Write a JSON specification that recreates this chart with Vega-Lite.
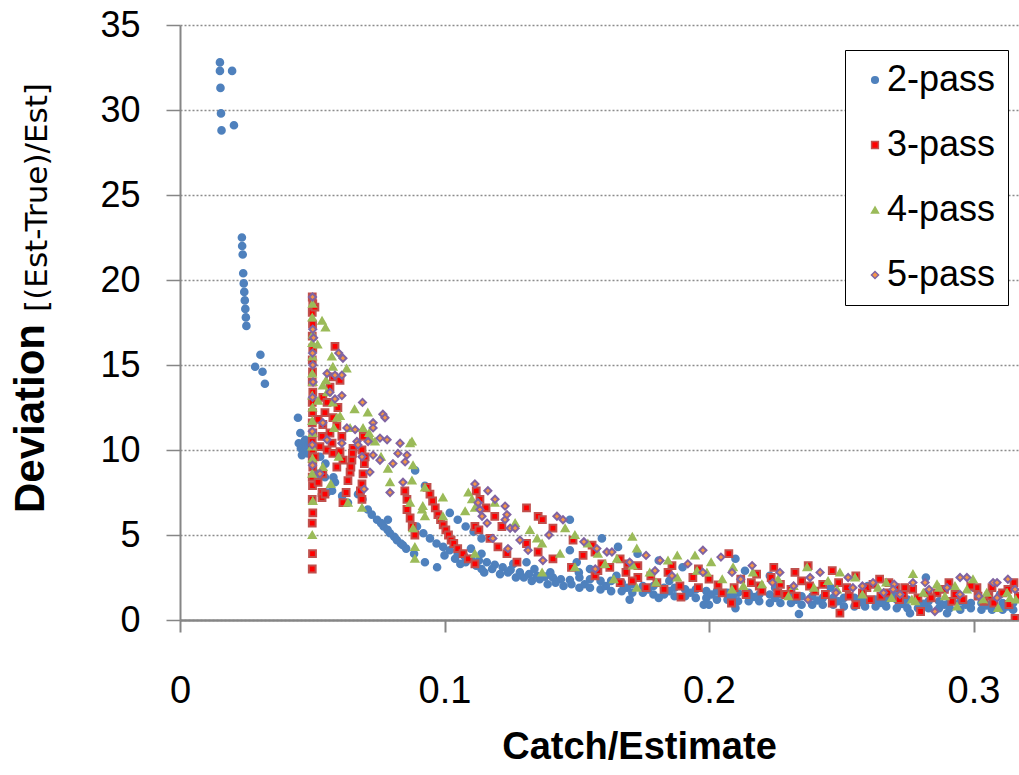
{
"$schema":"https://vega.github.io/schema/vega-lite/v6.json",
"width":839,"height":595,"autosize":"none",
"padding":{"left":180,"top":25,"right":0,"bottom":155},
"background":"white",
"config":{"view":{"stroke":null},"font":"Liberation Sans"},
"data":{"values":[
{"s":"2-pass","x":0.0151,"y":32.8},{"s":"2-pass","x":0.0151,"y":32.3},{"s":"2-pass","x":0.0153,"y":31.3},{"s":"2-pass","x":0.0155,"y":29.8},{"s":"2-pass","x":0.0157,"y":28.8},{"s":"2-pass","x":0.0197,"y":32.3},{"s":"2-pass","x":0.0204,"y":29.1},
{"s":"2-pass","x":0.0234,"y":22.5},{"s":"2-pass","x":0.0235,"y":22.0},{"s":"2-pass","x":0.0237,"y":21.5},{"s":"2-pass","x":0.0239,"y":20.4},{"s":"2-pass","x":0.0241,"y":19.8},{"s":"2-pass","x":0.0243,"y":19.3},{"s":"2-pass","x":0.0245,"y":18.8},{"s":"2-pass","x":0.0247,"y":18.3},{"s":"2-pass","x":0.0249,"y":17.8},{"s":"2-pass","x":0.0251,"y":17.3},
{"s":"2-pass","x":0.0284,"y":14.9},{"s":"2-pass","x":0.0304,"y":15.6},{"s":"2-pass","x":0.0312,"y":14.6},{"s":"2-pass","x":0.0321,"y":13.9},
{"s":"2-pass","x":0.0446,"y":11.9},{"s":"2-pass","x":0.0455,"y":11.0},{"s":"2-pass","x":0.0449,"y":10.4},{"s":"2-pass","x":0.0457,"y":10.1},{"s":"2-pass","x":0.0461,"y":9.7},{"s":"2-pass","x":0.0465,"y":10.4},{"s":"2-pass","x":0.0469,"y":9.9},{"s":"2-pass","x":0.0473,"y":10.6},{"s":"2-pass","x":0.0478,"y":10.2},{"s":"2-pass","x":0.0483,"y":9.8},{"s":"2-pass","x":0.0488,"y":10.3},{"s":"2-pass","x":0.0493,"y":10.5},
{"s":"2-pass","x":0.052,"y":8.6},{"s":"2-pass","x":0.053,"y":9.6},{"s":"2-pass","x":0.055,"y":9.2},{"s":"2-pass","x":0.0556,"y":7.5},{"s":"2-pass","x":0.058,"y":8.4},{"s":"2-pass","x":0.0586,"y":8.1},{"s":"2-pass","x":0.0613,"y":7.3},{"s":"2-pass","x":0.0635,"y":6.9},{"s":"2-pass","x":0.0548,"y":8.4},{"s":"2-pass","x":0.0575,"y":7.6},
{"s":"2-pass","x":0.0673,"y":7.4},{"s":"2-pass","x":0.069,"y":7.1},{"s":"2-pass","x":0.071,"y":6.5},{"s":"2-pass","x":0.0725,"y":6.2},{"s":"2-pass","x":0.0745,"y":5.9},{"s":"2-pass","x":0.076,"y":5.7},{"s":"2-pass","x":0.077,"y":5.5},{"s":"2-pass","x":0.0785,"y":5.3},{"s":"2-pass","x":0.0794,"y":5.1},{"s":"2-pass","x":0.081,"y":4.9},{"s":"2-pass","x":0.082,"y":4.7},{"s":"2-pass","x":0.0835,"y":4.5},{"s":"2-pass","x":0.0843,"y":4.4},{"s":"2-pass","x":0.0786,"y":5.9},{"s":"2-pass","x":0.0855,"y":4.2},
{"s":"2-pass","x":0.0889,"y":8.8},{"s":"2-pass","x":0.0926,"y":7.9},{"s":"2-pass","x":0.0926,"y":3.4},{"s":"2-pass","x":0.0972,"y":3.1},{"s":"2-pass","x":0.0885,"y":3.9},{"s":"2-pass","x":0.102,"y":6.3},{"s":"2-pass","x":0.105,"y":5.9},{"s":"2-pass","x":0.108,"y":5.5},{"s":"2-pass","x":0.111,"y":5.2},{"s":"2-pass","x":0.114,"y":4.8},{"s":"2-pass","x":0.1474,"y":5.9},{"s":"2-pass","x":0.110,"y":4.2},{"s":"2-pass","x":0.114,"y":3.9},{"s":"2-pass","x":0.131,"y":3.4},{"s":"2-pass","x":0.1474,"y":4.1},{"s":"2-pass","x":0.150,"y":3.4},{"s":"2-pass","x":0.115,"y":2.8},
{"s":"2-pass","x":0.0896,"y":5.5},{"s":"2-pass","x":0.092,"y":5.1},{"s":"2-pass","x":0.0945,"y":4.8},{"s":"2-pass","x":0.097,"y":4.5},{"s":"2-pass","x":0.0995,"y":4.3},{"s":"2-pass","x":0.102,"y":4.1},{"s":"2-pass","x":0.105,"y":3.9},{"s":"2-pass","x":0.1075,"y":3.75},{"s":"2-pass","x":0.110,"y":3.6},{"s":"2-pass","x":0.113,"y":3.5},{"s":"2-pass","x":0.116,"y":3.4},{"s":"2-pass","x":0.119,"y":3.25},{"s":"2-pass","x":0.122,"y":3.1},{"s":"2-pass","x":0.125,"y":2.95},{"s":"2-pass","x":0.1285,"y":2.8},{"s":"2-pass","x":0.132,"y":2.7},{"s":"2-pass","x":0.135,"y":2.6},{"s":"2-pass","x":0.138,"y":2.55},{"s":"2-pass","x":0.141,"y":2.5},{"s":"2-pass","x":0.144,"y":2.4},{"s":"2-pass","x":0.1474,"y":2.35},
{"s":"2-pass","x":0.1,"y":3.8},{"s":"2-pass","x":0.104,"y":3.6},{"s":"2-pass","x":0.108,"y":3.4},{"s":"2-pass","x":0.112,"y":3.2},{"s":"2-pass","x":0.118,"y":3.0},{"s":"2-pass","x":0.124,"y":2.8},{"s":"2-pass","x":0.130,"y":2.5},{"s":"2-pass","x":0.136,"y":2.4},{"s":"2-pass","x":0.142,"y":2.2},{"s":"2-pass","x":0.148,"y":2.1},
{"s":"2-pass","x":0.106,"y":3.3},{"s":"2-pass","x":0.114,"y":3.0},{"s":"2-pass","x":0.121,"y":2.7},{"s":"2-pass","x":0.127,"y":2.5},{"s":"2-pass","x":0.133,"y":2.3},{"s":"2-pass","x":0.139,"y":2.1},{"s":"2-pass","x":0.145,"y":2.0},{"s":"2-pass","x":0.126,"y":3.3},{"s":"2-pass","x":0.134,"y":3.0},{"s":"2-pass","x":0.14,"y":2.8},
{"s":"2-pass","x":0.151,"y":2.5},{"s":"2-pass","x":0.151,"y":1.9},{"s":"2-pass","x":0.155,"y":2.4},{"s":"2-pass","x":0.155,"y":1.9},{"s":"2-pass","x":0.159,"y":2.3},{"s":"2-pass","x":0.159,"y":1.8},{"s":"2-pass","x":0.163,"y":2.3},{"s":"2-pass","x":0.163,"y":1.7},{"s":"2-pass","x":0.167,"y":2.2},{"s":"2-pass","x":0.167,"y":1.7},{"s":"2-pass","x":0.171,"y":2.1},{"s":"2-pass","x":0.171,"y":1.6},{"s":"2-pass","x":0.175,"y":2.0},{"s":"2-pass","x":0.175,"y":1.6},{"s":"2-pass","x":0.179,"y":2.0},{"s":"2-pass","x":0.179,"y":1.5},{"s":"2-pass","x":0.183,"y":1.9},{"s":"2-pass","x":0.183,"y":1.5},{"s":"2-pass","x":0.187,"y":1.9},{"s":"2-pass","x":0.187,"y":1.4},{"s":"2-pass","x":0.191,"y":1.8},{"s":"2-pass","x":0.191,"y":1.4},{"s":"2-pass","x":0.195,"y":1.8},{"s":"2-pass","x":0.195,"y":1.3},{"s":"2-pass","x":0.199,"y":1.7},{"s":"2-pass","x":0.199,"y":1.3},
{"s":"2-pass","x":0.203,"y":1.7},{"s":"2-pass","x":0.203,"y":1.2},{"s":"2-pass","x":0.207,"y":1.6},{"s":"2-pass","x":0.207,"y":1.2},{"s":"2-pass","x":0.211,"y":1.6},{"s":"2-pass","x":0.211,"y":1.1},{"s":"2-pass","x":0.215,"y":1.6},{"s":"2-pass","x":0.215,"y":1.1},{"s":"2-pass","x":0.219,"y":1.5},{"s":"2-pass","x":0.219,"y":1.1},{"s":"2-pass","x":0.223,"y":1.5},{"s":"2-pass","x":0.223,"y":1.0},{"s":"2-pass","x":0.227,"y":1.5},{"s":"2-pass","x":0.227,"y":1.0},{"s":"2-pass","x":0.231,"y":1.4},{"s":"2-pass","x":0.231,"y":1.0},{"s":"2-pass","x":0.235,"y":1.4},{"s":"2-pass","x":0.235,"y":0.9},{"s":"2-pass","x":0.239,"y":1.4},{"s":"2-pass","x":0.239,"y":0.9},{"s":"2-pass","x":0.243,"y":1.3},{"s":"2-pass","x":0.243,"y":0.9},{"s":"2-pass","x":0.247,"y":1.3},{"s":"2-pass","x":0.247,"y":0.9},{"s":"2-pass","x":0.251,"y":1.3},{"s":"2-pass","x":0.251,"y":0.8},
{"s":"2-pass","x":0.255,"y":1.3},{"s":"2-pass","x":0.255,"y":0.8},{"s":"2-pass","x":0.259,"y":1.2},{"s":"2-pass","x":0.259,"y":0.8},{"s":"2-pass","x":0.263,"y":1.2},{"s":"2-pass","x":0.263,"y":0.8},{"s":"2-pass","x":0.267,"y":1.2},{"s":"2-pass","x":0.267,"y":0.8},{"s":"2-pass","x":0.271,"y":1.2},{"s":"2-pass","x":0.271,"y":0.7},{"s":"2-pass","x":0.275,"y":1.2},{"s":"2-pass","x":0.275,"y":0.7},{"s":"2-pass","x":0.279,"y":1.1},{"s":"2-pass","x":0.279,"y":0.7},{"s":"2-pass","x":0.283,"y":1.1},{"s":"2-pass","x":0.283,"y":0.7},{"s":"2-pass","x":0.287,"y":1.1},{"s":"2-pass","x":0.287,"y":0.7},{"s":"2-pass","x":0.291,"y":1.1},{"s":"2-pass","x":0.291,"y":0.7},{"s":"2-pass","x":0.295,"y":1.1},{"s":"2-pass","x":0.295,"y":0.6},{"s":"2-pass","x":0.299,"y":1.0},{"s":"2-pass","x":0.299,"y":0.7},{"s":"2-pass","x":0.303,"y":1.0},{"s":"2-pass","x":0.303,"y":0.6},{"s":"2-pass","x":0.307,"y":1.0},{"s":"2-pass","x":0.307,"y":0.6},{"s":"2-pass","x":0.311,"y":1.0},{"s":"2-pass","x":0.311,"y":0.6},{"s":"2-pass","x":0.315,"y":1.0},{"s":"2-pass","x":0.315,"y":0.6},
{"s":"2-pass","x":0.153,"y":2.1},{"s":"2-pass","x":0.161,"y":2.0},{"s":"2-pass","x":0.169,"y":1.9},{"s":"2-pass","x":0.177,"y":1.8},{"s":"2-pass","x":0.185,"y":1.7},{"s":"2-pass","x":0.193,"y":1.6},{"s":"2-pass","x":0.201,"y":1.5},{"s":"2-pass","x":0.209,"y":1.4},{"s":"2-pass","x":0.217,"y":1.35},{"s":"2-pass","x":0.225,"y":1.3},{"s":"2-pass","x":0.233,"y":1.2},{"s":"2-pass","x":0.241,"y":1.15},{"s":"2-pass","x":0.249,"y":1.1},{"s":"2-pass","x":0.257,"y":1.05},{"s":"2-pass","x":0.265,"y":1.0},{"s":"2-pass","x":0.273,"y":0.95},{"s":"2-pass","x":0.281,"y":0.95},{"s":"2-pass","x":0.289,"y":0.9},{"s":"2-pass","x":0.297,"y":0.9},{"s":"2-pass","x":0.305,"y":0.85},{"s":"2-pass","x":0.313,"y":0.8},
{"s":"2-pass","x":0.1595,"y":4.8},{"s":"2-pass","x":0.1656,"y":4.3},{"s":"2-pass","x":0.1508,"y":2.8},{"s":"2-pass","x":0.173,"y":3.9},{"s":"2-pass","x":0.181,"y":1.3},{"s":"2-pass","x":0.198,"y":0.9},{"s":"2-pass","x":0.19,"y":3.1},{"s":"2-pass","x":0.181,"y":3.5},{"s":"2-pass","x":0.21,"y":3.6},{"s":"2-pass","x":0.2136,"y":2.9},{"s":"2-pass","x":0.223,"y":2.6},{"s":"2-pass","x":0.2,"y":0.9},{"s":"2-pass","x":0.21,"y":0.7},{"s":"2-pass","x":0.234,"y":0.35},{"s":"2-pass","x":0.282,"y":2.5},{"s":"2-pass","x":0.276,"y":0.4},{"s":"2-pass","x":0.246,"y":1.9},{"s":"2-pass","x":0.17,"y":1.2},{"s":"2-pass","x":0.26,"y":2.0},{"s":"2-pass","x":0.30,"y":1.9},{"s":"2-pass","x":0.29,"y":0.4},{"s":"2-pass","x":0.165,"y":2.6},{"s":"2-pass","x":0.155,"y":3.0},{"s":"2-pass","x":0.185,"y":2.3},{"s":"2-pass","x":0.225,"y":1.9},{"s":"2-pass","x":0.27,"y":1.6},{"s":"2-pass","x":0.31,"y":1.5},

{"s":"3-pass","x":0.0500,"y":3.0},{"s":"3-pass","x":0.0501,"y":3.9},{"s":"3-pass","x":0.0500,"y":5.7},{"s":"3-pass","x":0.0502,"y":6.3},{"s":"3-pass","x":0.0500,"y":7.1},{"s":"3-pass","x":0.0501,"y":7.9},{"s":"3-pass","x":0.0500,"y":8.4},{"s":"3-pass","x":0.0502,"y":9.0},{"s":"3-pass","x":0.0500,"y":9.5},{"s":"3-pass","x":0.0501,"y":10.0},{"s":"3-pass","x":0.0500,"y":10.5},{"s":"3-pass","x":0.0502,"y":11.0},{"s":"3-pass","x":0.0500,"y":11.6},{"s":"3-pass","x":0.0501,"y":12.2},{"s":"3-pass","x":0.0500,"y":12.8},{"s":"3-pass","x":0.0502,"y":13.4},{"s":"3-pass","x":0.0500,"y":14.0},{"s":"3-pass","x":0.0501,"y":14.6},{"s":"3-pass","x":0.0500,"y":15.3},{"s":"3-pass","x":0.0502,"y":16.0},{"s":"3-pass","x":0.0500,"y":16.7},{"s":"3-pass","x":0.0501,"y":17.4},{"s":"3-pass","x":0.0500,"y":18.1},{"s":"3-pass","x":0.0502,"y":18.6},{"s":"3-pass","x":0.0500,"y":19.0},
{"s":"3-pass","x":0.051,"y":18.4},{"s":"3-pass","x":0.0586,"y":16.1},{"s":"3-pass","x":0.058,"y":14.3},{"s":"3-pass","x":0.0567,"y":13.7},{"s":"3-pass","x":0.0597,"y":12.5},{"s":"3-pass","x":0.054,"y":13.1},{"s":"3-pass","x":0.0556,"y":12.8},{"s":"3-pass","x":0.0605,"y":14.1},{"s":"3-pass","x":0.0578,"y":11.9},{"s":"3-pass","x":0.054,"y":11.5},{"s":"3-pass","x":0.0537,"y":10.8},{"s":"3-pass","x":0.0567,"y":11.0},{"s":"3-pass","x":0.0593,"y":11.4},{"s":"3-pass","x":0.0529,"y":10.2},{"s":"3-pass","x":0.0556,"y":10.0},{"s":"3-pass","x":0.0578,"y":9.8},{"s":"3-pass","x":0.0605,"y":9.9},{"s":"3-pass","x":0.0510,"y":9.6},{"s":"3-pass","x":0.054,"y":8.6},{"s":"3-pass","x":0.0522,"y":8.1},{"s":"3-pass","x":0.0537,"y":7.5},{"s":"3-pass","x":0.0537,"y":7.2},{"s":"3-pass","x":0.0593,"y":9.0},{"s":"3-pass","x":0.0616,"y":9.4},{"s":"3-pass","x":0.0612,"y":10.8},{"s":"3-pass","x":0.0575,"y":10.4},{"s":"3-pass","x":0.0548,"y":12.2},{"s":"3-pass","x":0.0522,"y":11.8},{"s":"3-pass","x":0.0548,"y":7.4},
{"s":"3-pass","x":0.0654,"y":10.1},{"s":"3-pass","x":0.0650,"y":9.4},{"s":"3-pass","x":0.0643,"y":8.7},{"s":"3-pass","x":0.0635,"y":8.2},{"s":"3-pass","x":0.0628,"y":7.5},{"s":"3-pass","x":0.0616,"y":6.9},{"s":"3-pass","x":0.0646,"y":9.0},{"s":"3-pass","x":0.0652,"y":9.8},
{"s":"3-pass","x":0.0688,"y":10.0},{"s":"3-pass","x":0.0697,"y":9.2},{"s":"3-pass","x":0.0692,"y":8.6},{"s":"3-pass","x":0.0688,"y":8.0},{"s":"3-pass","x":0.0688,"y":7.1},{"s":"3-pass","x":0.0682,"y":7.6},{"s":"3-pass","x":0.0693,"y":10.8},{"s":"3-pass","x":0.0700,"y":9.6},
{"s":"3-pass","x":0.085,"y":7.6},{"s":"3-pass","x":0.0858,"y":7.1},{"s":"3-pass","x":0.0858,"y":6.5},{"s":"3-pass","x":0.0870,"y":6.0},{"s":"3-pass","x":0.0888,"y":5.0},{"s":"3-pass","x":0.0878,"y":5.5},
{"s":"3-pass","x":0.0934,"y":7.8},{"s":"3-pass","x":0.0945,"y":7.4},{"s":"3-pass","x":0.0955,"y":7.0},{"s":"3-pass","x":0.0965,"y":6.6},{"s":"3-pass","x":0.0975,"y":6.2},{"s":"3-pass","x":0.0985,"y":5.9},{"s":"3-pass","x":0.0995,"y":5.6},{"s":"3-pass","x":0.1005,"y":5.3},{"s":"3-pass","x":0.1015,"y":5.0},{"s":"3-pass","x":0.1025,"y":4.7},{"s":"3-pass","x":0.1035,"y":4.5},{"s":"3-pass","x":0.105,"y":4.2},{"s":"3-pass","x":0.107,"y":3.9},{"s":"3-pass","x":0.109,"y":3.6},{"s":"3-pass","x":0.1115,"y":3.3},
{"s":"3-pass","x":0.112,"y":7.6},{"s":"3-pass","x":0.1134,"y":7.1},{"s":"3-pass","x":0.1157,"y":6.6},{"s":"3-pass","x":0.119,"y":6.1},{"s":"3-pass","x":0.1217,"y":5.5},{"s":"3-pass","x":0.1115,"y":5.5},{"s":"3-pass","x":0.113,"y":5.3},{"s":"3-pass","x":0.1172,"y":4.8},{"s":"3-pass","x":0.1202,"y":4.3},{"s":"3-pass","x":0.1236,"y":3.9},{"s":"3-pass","x":0.1274,"y":3.4},{"s":"3-pass","x":0.131,"y":6.6},{"s":"3-pass","x":0.1354,"y":6.1},{"s":"3-pass","x":0.137,"y":5.9},{"s":"3-pass","x":0.141,"y":5.4},{"s":"3-pass","x":0.131,"y":4.5},{"s":"3-pass","x":0.1354,"y":4.0},{"s":"3-pass","x":0.141,"y":3.6},{"s":"3-pass","x":0.148,"y":3.1},{"s":"3-pass","x":0.1486,"y":4.7},
{"s":"3-pass","x":0.1524,"y":3.8},{"s":"3-pass","x":0.1558,"y":4.4},{"s":"3-pass","x":0.1569,"y":4.0},{"s":"3-pass","x":0.1595,"y":3.3},{"s":"3-pass","x":0.1625,"y":3.1},{"s":"3-pass","x":0.1686,"y":2.8},{"s":"3-pass","x":0.1664,"y":3.6},{"s":"3-pass","x":0.1693,"y":3.3},{"s":"3-pass","x":0.1731,"y":3.2},{"s":"3-pass","x":0.1762,"y":1.9},{"s":"3-pass","x":0.1731,"y":2.5},{"s":"3-pass","x":0.1803,"y":2.2},{"s":"3-pass","x":0.1845,"y":2.8},{"s":"3-pass","x":0.1860,"y":3.2},{"s":"3-pass","x":0.1890,"y":2.0},{"s":"3-pass","x":0.1894,"y":1.35},{"s":"3-pass","x":0.1939,"y":2.5},{"s":"3-pass","x":0.1569,"y":2.6},{"s":"3-pass","x":0.1664,"y":2.2},{"s":"3-pass","x":0.2034,"y":2.06},
{"s":"3-pass","x":0.2075,"y":3.9},{"s":"3-pass","x":0.2085,"y":1.0},{"s":"3-pass","x":0.2095,"y":1.9},{"s":"3-pass","x":0.212,"y":2.4},{"s":"3-pass","x":0.216,"y":2.2},{"s":"3-pass","x":0.219,"y":2.0},{"s":"3-pass","x":0.2245,"y":3.1},{"s":"3-pass","x":0.2235,"y":2.5},{"s":"3-pass","x":0.227,"y":2.1},{"s":"3-pass","x":0.231,"y":1.8},{"s":"3-pass","x":0.2325,"y":2.8},{"s":"3-pass","x":0.2375,"y":3.2},{"s":"3-pass","x":0.235,"y":2.3},{"s":"3-pass","x":0.240,"y":1.7},{"s":"3-pass","x":0.243,"y":2.1},{"s":"3-pass","x":0.2466,"y":2.9},{"s":"3-pass","x":0.2466,"y":1.0},{"s":"3-pass","x":0.2495,"y":0.4},{"s":"3-pass","x":0.252,"y":1.9},{"s":"3-pass","x":0.2555,"y":2.6},{"s":"3-pass","x":0.2555,"y":0.9},{"s":"3-pass","x":0.2597,"y":1.9},{"s":"3-pass","x":0.262,"y":2.1},{"s":"3-pass","x":0.2645,"y":2.4},{"s":"3-pass","x":0.2675,"y":1.6},{"s":"3-pass","x":0.2705,"y":1.9},{"s":"3-pass","x":0.2735,"y":1.5},{"s":"3-pass","x":0.2790,"y":1.3},{"s":"3-pass","x":0.2800,"y":0.5},{"s":"3-pass","x":0.2828,"y":1.6},{"s":"3-pass","x":0.2862,"y":1.6},{"s":"3-pass","x":0.2907,"y":2.2},{"s":"3-pass","x":0.2918,"y":1.1},{"s":"3-pass","x":0.2960,"y":1.2},{"s":"3-pass","x":0.3013,"y":1.9},{"s":"3-pass","x":0.3017,"y":1.4},{"s":"3-pass","x":0.3058,"y":1.4},{"s":"3-pass","x":0.3070,"y":1.9},{"s":"3-pass","x":0.3077,"y":1.0},{"s":"3-pass","x":0.3130,"y":1.8},{"s":"3-pass","x":0.3134,"y":0.9},{"s":"3-pass","x":0.3153,"y":2.2},{"s":"3-pass","x":0.3157,"y":0.1},{"s":"3-pass","x":0.2580,"y":1.6},{"s":"3-pass","x":0.2650,"y":1.4},{"s":"3-pass","x":0.2740,"y":1.9},{"s":"3-pass","x":0.2290,"y":1.5},{"s":"3-pass","x":0.2380,"y":2.0},{"s":"3-pass","x":0.2200,"y":1.7},
{"s":"3-pass","x":0.158,"y":2.9},{"s":"3-pass","x":0.171,"y":2.3},{"s":"3-pass","x":0.178,"y":2.6},{"s":"3-pass","x":0.196,"y":1.9},{"s":"3-pass","x":0.2,"y":2.4},{"s":"3-pass","x":0.205,"y":1.6},{"s":"3-pass","x":0.214,"y":1.5},{"s":"3-pass","x":0.218,"y":2.7},{"s":"3-pass","x":0.226,"y":1.6},{"s":"3-pass","x":0.233,"y":1.4},{"s":"3-pass","x":0.244,"y":1.5},{"s":"3-pass","x":0.249,"y":2.2},{"s":"3-pass","x":0.253,"y":1.4},{"s":"3-pass","x":0.261,"y":1.2},{"s":"3-pass","x":0.268,"y":2.2},{"s":"3-pass","x":0.272,"y":1.2},{"s":"3-pass","x":0.277,"y":1.8},{"s":"3-pass","x":0.284,"y":1.3},{"s":"3-pass","x":0.289,"y":1.8},{"s":"3-pass","x":0.293,"y":1.5},{"s":"3-pass","x":0.299,"y":2.0},{"s":"3-pass","x":0.304,"y":1.1},{"s":"3-pass","x":0.311,"y":1.6},{"s":"3-pass","x":0.317,"y":1.4},{"s":"3-pass","x":0.196,"y":3.0},{"s":"3-pass","x":0.183,"y":1.8},

{"s":"4-pass","x":0.0500,"y":5.0},{"s":"4-pass","x":0.0502,"y":7.0},{"s":"4-pass","x":0.0500,"y":8.6},{"s":"4-pass","x":0.0501,"y":9.5},{"s":"4-pass","x":0.0499,"y":10.2},{"s":"4-pass","x":0.0502,"y":11.0},{"s":"4-pass","x":0.0500,"y":11.7},{"s":"4-pass","x":0.0501,"y":12.5},{"s":"4-pass","x":0.0500,"y":13.2},{"s":"4-pass","x":0.0502,"y":14.0},{"s":"4-pass","x":0.0500,"y":14.5},{"s":"4-pass","x":0.0501,"y":15.5},{"s":"4-pass","x":0.0500,"y":16.3},{"s":"4-pass","x":0.0502,"y":16.8},{"s":"4-pass","x":0.0500,"y":17.8},{"s":"4-pass","x":0.0501,"y":18.6},
{"s":"4-pass","x":0.0537,"y":17.6},{"s":"4-pass","x":0.055,"y":17.2},{"s":"4-pass","x":0.052,"y":16.2},{"s":"4-pass","x":0.0574,"y":15.5},{"s":"4-pass","x":0.063,"y":14.8},{"s":"4-pass","x":0.0552,"y":14.1},{"s":"4-pass","x":0.0578,"y":14.9},{"s":"4-pass","x":0.066,"y":12.4},{"s":"4-pass","x":0.071,"y":12.2},{"s":"4-pass","x":0.0605,"y":12.0},{"s":"4-pass","x":0.0540,"y":13.8},{"s":"4-pass","x":0.0556,"y":13.4},{"s":"4-pass","x":0.0522,"y":12.9},{"s":"4-pass","x":0.0578,"y":12.8},{"s":"4-pass","x":0.0593,"y":11.9},{"s":"4-pass","x":0.0582,"y":11.3},{"s":"4-pass","x":0.0643,"y":11.3},{"s":"4-pass","x":0.0692,"y":11.3},{"s":"4-pass","x":0.0737,"y":10.5},{"s":"4-pass","x":0.0877,"y":10.5},
{"s":"4-pass","x":0.072,"y":10.7},{"s":"4-pass","x":0.0715,"y":11.0},{"s":"4-pass","x":0.0786,"y":8.9},{"s":"4-pass","x":0.0794,"y":8.1},{"s":"4-pass","x":0.0870,"y":10.4},{"s":"4-pass","x":0.0881,"y":9.1},{"s":"4-pass","x":0.0877,"y":8.2},{"s":"4-pass","x":0.0870,"y":6.9},{"s":"4-pass","x":0.0926,"y":7.8},{"s":"4-pass","x":0.0915,"y":6.5},{"s":"4-pass","x":0.0881,"y":5.4},{"s":"4-pass","x":0.0888,"y":4.3},{"s":"4-pass","x":0.0888,"y":3.6},{"s":"4-pass","x":0.0688,"y":6.6},{"s":"4-pass","x":0.0635,"y":6.9},{"s":"4-pass","x":0.0540,"y":9.0},{"s":"4-pass","x":0.0570,"y":8.0},{"s":"4-pass","x":0.0600,"y":9.6},{"s":"4-pass","x":0.0760,"y":9.6},
{"s":"4-pass","x":0.109,"y":7.5},{"s":"4-pass","x":0.1104,"y":7.1},{"s":"4-pass","x":0.1115,"y":6.6},{"s":"4-pass","x":0.0918,"y":6.7},{"s":"4-pass","x":0.0994,"y":7.2},{"s":"4-pass","x":0.0994,"y":6.1},{"s":"4-pass","x":0.0926,"y":6.1},{"s":"4-pass","x":0.119,"y":6.9},{"s":"4-pass","x":0.1267,"y":5.7},{"s":"4-pass","x":0.1323,"y":5.3},{"s":"4-pass","x":0.135,"y":4.8},{"s":"4-pass","x":0.1369,"y":4.5},{"s":"4-pass","x":0.1369,"y":2.8},{"s":"4-pass","x":0.1437,"y":3.9},{"s":"4-pass","x":0.1456,"y":5.4},{"s":"4-pass","x":0.1493,"y":5.0},{"s":"4-pass","x":0.1078,"y":6.4},{"s":"4-pass","x":0.1115,"y":3.9},
{"s":"4-pass","x":0.1493,"y":3.1},{"s":"4-pass","x":0.1542,"y":4.5},{"s":"4-pass","x":0.1607,"y":3.3},{"s":"4-pass","x":0.1652,"y":3.6},{"s":"4-pass","x":0.171,"y":4.9},{"s":"4-pass","x":0.1727,"y":4.2},{"s":"4-pass","x":0.1712,"y":3.2},{"s":"4-pass","x":0.1727,"y":1.9},{"s":"4-pass","x":0.1776,"y":2.8},{"s":"4-pass","x":0.1845,"y":3.5},{"s":"4-pass","x":0.188,"y":3.8},{"s":"4-pass","x":0.188,"y":2.5},{"s":"4-pass","x":0.1947,"y":3.8},{"s":"4-pass","x":0.1955,"y":2.9},{"s":"4-pass","x":0.2008,"y":3.4},{"s":"4-pass","x":0.1992,"y":2.8},
{"s":"4-pass","x":0.2091,"y":3.1},{"s":"4-pass","x":0.2166,"y":2.8},{"s":"4-pass","x":0.2087,"y":1.8},{"s":"4-pass","x":0.2261,"y":2.4},{"s":"4-pass","x":0.2371,"y":3.1},{"s":"4-pass","x":0.2397,"y":1.9},{"s":"4-pass","x":0.2495,"y":2.8},{"s":"4-pass","x":0.2552,"y":2.5},{"s":"4-pass","x":0.2484,"y":1.8},{"s":"4-pass","x":0.2639,"y":1.9},{"s":"4-pass","x":0.2771,"y":2.7},{"s":"4-pass","x":0.2767,"y":1.2},{"s":"4-pass","x":0.2862,"y":2.1},{"s":"4-pass","x":0.2938,"y":0.8},{"s":"4-pass","x":0.2998,"y":2.4},{"s":"4-pass","x":0.3036,"y":1.2},{"s":"4-pass","x":0.3138,"y":1.3},{"s":"4-pass","x":0.2780,"y":1.1},{"s":"4-pass","x":0.2870,"y":1.9},{"s":"4-pass","x":0.2892,"y":1.4},{"s":"4-pass","x":0.2975,"y":1.8},{"s":"4-pass","x":0.3093,"y":0.7},{"s":"4-pass","x":0.3127,"y":1.6},{"s":"4-pass","x":0.3160,"y":1.2},{"s":"4-pass","x":0.2200,"y":2.1},{"s":"4-pass","x":0.2300,"y":1.4},{"s":"4-pass","x":0.2690,"y":1.3},
{"s":"4-pass","x":0.205,"y":2.4},{"s":"4-pass","x":0.213,"y":2.0},{"s":"4-pass","x":0.232,"y":2.0},{"s":"4-pass","x":0.245,"y":2.3},{"s":"4-pass","x":0.258,"y":1.5},{"s":"4-pass","x":0.267,"y":2.2},{"s":"4-pass","x":0.281,"y":1.6},{"s":"4-pass","x":0.293,"y":2.0},{"s":"4-pass","x":0.305,"y":1.6},{"s":"4-pass","x":0.164,"y":2.4},{"s":"4-pass","x":0.158,"y":3.9},{"s":"4-pass","x":0.18,"y":2.2},

{"s":"5-pass","x":0.0501,"y":19.0},{"s":"5-pass","x":0.0502,"y":17.1},{"s":"5-pass","x":0.0505,"y":16.6},{"s":"5-pass","x":0.0501,"y":15.7},{"s":"5-pass","x":0.0502,"y":15.0},{"s":"5-pass","x":0.0501,"y":13.1},{"s":"5-pass","x":0.0500,"y":11.1},{"s":"5-pass","x":0.0501,"y":9.1},{"s":"5-pass","x":0.0503,"y":14.0},{"s":"5-pass","x":0.0500,"y":10.3},
{"s":"5-pass","x":0.060,"y":15.7},{"s":"5-pass","x":0.0616,"y":15.4},{"s":"5-pass","x":0.0556,"y":14.5},{"s":"5-pass","x":0.0586,"y":14.4},{"s":"5-pass","x":0.0612,"y":14.4},{"s":"5-pass","x":0.0567,"y":13.4},{"s":"5-pass","x":0.0586,"y":13.0},{"s":"5-pass","x":0.0612,"y":13.2},{"s":"5-pass","x":0.069,"y":12.8},{"s":"5-pass","x":0.0767,"y":12.1},{"s":"5-pass","x":0.0775,"y":11.9},{"s":"5-pass","x":0.0730,"y":11.6},{"s":"5-pass","x":0.0756,"y":10.7},{"s":"5-pass","x":0.0783,"y":10.6},{"s":"5-pass","x":0.0730,"y":11.3},{"s":"5-pass","x":0.0711,"y":10.5},{"s":"5-pass","x":0.0631,"y":11.3},{"s":"5-pass","x":0.0662,"y":11.2},{"s":"5-pass","x":0.0612,"y":10.4},{"s":"5-pass","x":0.0688,"y":9.6},{"s":"5-pass","x":0.0718,"y":8.7},{"s":"5-pass","x":0.0730,"y":9.7},{"s":"5-pass","x":0.0756,"y":9.4},{"s":"5-pass","x":0.0794,"y":7.5},{"s":"5-pass","x":0.0805,"y":9.2},{"s":"5-pass","x":0.0824,"y":9.8},{"s":"5-pass","x":0.0832,"y":10.4},{"s":"5-pass","x":0.0851,"y":9.3},{"s":"5-pass","x":0.0858,"y":9.7},{"s":"5-pass","x":0.0843,"y":8.1},{"s":"5-pass","x":0.0696,"y":7.7},{"s":"5-pass","x":0.0669,"y":10.5},{"s":"5-pass","x":0.0673,"y":10.3},{"s":"5-pass","x":0.0540,"y":11.6},{"s":"5-pass","x":0.0556,"y":10.6},{"s":"5-pass","x":0.0529,"y":8.6},
{"s":"5-pass","x":0.1115,"y":8.0},{"s":"5-pass","x":0.1164,"y":7.6},{"s":"5-pass","x":0.1127,"y":6.9},{"s":"5-pass","x":0.1134,"y":6.5},{"s":"5-pass","x":0.1142,"y":6.1},{"s":"5-pass","x":0.1191,"y":7.1},{"s":"5-pass","x":0.1229,"y":6.7},{"s":"5-pass","x":0.1229,"y":5.9},{"s":"5-pass","x":0.1236,"y":6.2},{"s":"5-pass","x":0.1248,"y":5.4},{"s":"5-pass","x":0.1267,"y":5.4},{"s":"5-pass","x":0.1161,"y":5.7},{"s":"5-pass","x":0.1183,"y":4.8},{"s":"5-pass","x":0.1285,"y":4.7},{"s":"5-pass","x":0.1240,"y":4.2},{"s":"5-pass","x":0.1316,"y":4.1},{"s":"5-pass","x":0.1372,"y":3.5},{"s":"5-pass","x":0.1425,"y":6.1},{"s":"5-pass","x":0.1448,"y":5.9},
{"s":"5-pass","x":0.1395,"y":5.0},{"s":"5-pass","x":0.1527,"y":4.6},{"s":"5-pass","x":0.1576,"y":4.2},{"s":"5-pass","x":0.1614,"y":4.0},{"s":"5-pass","x":0.1633,"y":4.0},{"s":"5-pass","x":0.1762,"y":3.8},{"s":"5-pass","x":0.1815,"y":3.5},{"s":"5-pass","x":0.1796,"y":2.9},{"s":"5-pass","x":0.1977,"y":4.1},{"s":"5-pass","x":0.1977,"y":2.8},{"s":"5-pass","x":0.2045,"y":3.7},
{"s":"5-pass","x":0.2163,"y":3.2},{"s":"5-pass","x":0.2087,"y":2.8},{"s":"5-pass","x":0.2268,"y":2.8},{"s":"5-pass","x":0.2382,"y":2.5},{"s":"5-pass","x":0.2420,"y":2.8},{"s":"5-pass","x":0.2374,"y":1.2},{"s":"5-pass","x":0.2526,"y":2.5},{"s":"5-pass","x":0.2544,"y":1.9},{"s":"5-pass","x":0.2620,"y":2.2},{"s":"5-pass","x":0.2700,"y":2.1},{"s":"5-pass","x":0.2722,"y":1.5},{"s":"5-pass","x":0.2771,"y":2.2},{"s":"5-pass","x":0.2832,"y":1.8},{"s":"5-pass","x":0.2854,"y":0.5},{"s":"5-pass","x":0.2949,"y":2.5},{"s":"5-pass","x":0.2975,"y":2.5},{"s":"5-pass","x":0.3074,"y":2.2},{"s":"5-pass","x":0.3089,"y":2.2},{"s":"5-pass","x":0.3157,"y":1.8},{"s":"5-pass","x":0.2949,"y":1.5},{"s":"5-pass","x":0.2696,"y":1.8},{"s":"5-pass","x":0.2817,"y":2.2},{"s":"5-pass","x":0.3089,"y":1.3},
{"s":"5-pass","x":0.186,"y":2.6},{"s":"5-pass","x":0.192,"y":3.3},{"s":"5-pass","x":0.212,"y":2.4},{"s":"5-pass","x":0.224,"y":2.2},{"s":"5-pass","x":0.232,"y":2.0},{"s":"5-pass","x":0.248,"y":1.6},{"s":"5-pass","x":0.258,"y":2.0},{"s":"5-pass","x":0.266,"y":1.6},{"s":"5-pass","x":0.29,"y":1.9},{"s":"5-pass","x":0.302,"y":1.4},{"s":"5-pass","x":0.313,"y":2.4},{"s":"5-pass","x":0.17,"y":3.4},{"s":"5-pass","x":0.157,"y":3.0}
]},
"layer":[
{"mark":{"type":"point","filled":true,"strokeWidth":2,"opacity":1,"clip":true},
 "encoding":{
  "x":{"field":"x","type":"quantitative","scale":{"domain":[0,0.3172],"nice":false,"zero":false},
   "axis":{"values":[0,0.1,0.2,0.3],"format":"~g","grid":false,"domainColor":"#868686","domainWidth":2.5,"tickColor":"#868686","tickWidth":2,"tickSize":12,"labelFontSize":38,"labelColor":"black","labelPadding":40,"labelFlush":false,"title":"Catch/Estimate","titleFontSize":38,"titleFontWeight":"bold","titleColor":"black","titlePadding":18,"titleX":459,"titleAlign":"center"}},
  "y":{"field":"y","type":"quantitative","scale":{"domain":[0,35],"nice":false},
   "axis":{"values":[0,5,10,15,20,25,30,35],"grid":true,"gridDash":[2,2],"gridColor":"#8c8c8c","gridWidth":1.5,"domainColor":"#868686","domainWidth":2,"tickColor":"#868686","tickWidth":1.5,"tickSize":14,"labelFontSize":36,"labelColor":"black","labelPadding":26,"labelFlush":false,"title":"Deviation","titleFontSize":42,"titleFontWeight":"bold","titleColor":"black","titleAngle":270,"titleAlign":"center","titleBaseline":"middle","titleX":-150,"titleY":393}},
  "shape":{"field":"s","type":"nominal","scale":{"domain":["2-pass","3-pass","4-pass","5-pass"],"range":["circle","square","triangle-up","diamond"]},
   "legend":{"title":null,"orient":"none","legendX":665,"legendY":25,"strokeColor":"black","fillColor":"white","padding":12,"labelFontSize":36,"labelFont":"Liberation Sans","labelColor":"black","rowPadding":29,"labelOffset":-6,"encode":{"legend":{"update":{"strokeWidth":{"value":2}}}}}},
  "fill":{"field":"s","type":"nominal","scale":{"domain":["2-pass","3-pass","4-pass","5-pass"],"range":["#4F81BD","#FF0000","#9BBB59","#F79646"]},"legend":{"title":null}},
  "stroke":{"field":"s","type":"nominal","scale":{"domain":["2-pass","3-pass","4-pass","5-pass"],"range":["#4F81BD","#C0504D","#9BBB59","#8064A2"]},"legend":{"title":null}},
  "size":{"field":"s","type":"nominal","scale":{"domain":["2-pass","3-pass","4-pass","5-pass"],"range":[44,50,70,46]},"legend":{"title":null}}
 }},
{"mark":{"type":"point","opacity":0},
 "encoding":{
  "y":{"field":"y","type":"quantitative","scale":{"domain":[0,35],"nice":false},
   "axis":{"orient":"left","title":"[(Est-True)/Est]","titleFont":"DejaVu Sans","titleFontSize":31,"titleFontWeight":"normal","titleColor":"black","titleAngle":270,"titleAlign":"center","titleBaseline":"middle","titleX":-143,"titleY":172,"labels":false,"ticks":false,"domain":false,"grid":false}}
 }}
],
"resolve":{"scale":{"y":"independent"},"axis":{"y":"independent"}}
}
